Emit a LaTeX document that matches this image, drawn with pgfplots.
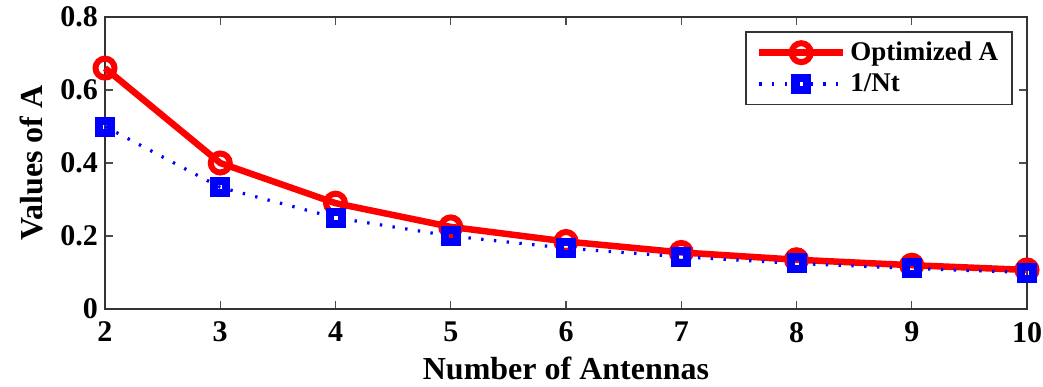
\documentclass[border=0pt]{standalone}
\usepackage{fontspec}
\setmainfont{Liberation Serif}
\usepackage{pgfplots}
\pgfplotsset{compat=1.18}
\begin{document}
\begin{tikzpicture}
\begin{axis}[
  name=ax,
  scale only axis,
  width=461pt, height=146pt,
  xmin=2, xmax=10, ymin=0, ymax=0.8,
  xtick={2,3,...,10},
  ytick={0,0.2,0.4,0.6,0.8},
  yticklabels={0,0.2,0.4,0.6,0.8},
  tick align=inside,
  major tick length=4pt,
  axis line style={line width=0.8pt, black!80},
  tick style={line width=0.6pt, black!70},
  tick label style={font=\fontsize{15}{17}\selectfont\bfseries},
  xticklabel style={yshift=-3pt},
  /pgf/number format/assume math mode=true,
  xlabel={\bfseries Number of Antennas},
  ylabel={\bfseries Values of A},
  label style={font=\fontsize{16}{18}\selectfont, inner sep=0pt},
  xlabel style={at={(axis description cs:0.5,-0.243)}, anchor=base},
  ylabel style={at={(axis description cs:-0.068,0.5)}, anchor=base},
  legend style={at={(axis description cs:1,1)}, anchor=north east, xshift=-7pt, yshift=-7pt,
    font=\fontsize{13.5}{15}\selectfont\bfseries, draw=black!80, line width=0.8pt,
    inner xsep=5pt, inner ysep=3pt, row sep=1pt},
  legend image code/.code={\draw[mark repeat=2,mark phase=2,#1] plot coordinates {(0pt,0pt) (21pt,0pt) (42pt,0pt)};},
  legend cell align=left,
  clip=false,
]
\addplot[color=red, line width=3.25pt, mark=o, mark size=4.75pt, mark options={solid, line width=3pt}]
  coordinates {(2,0.66) (3,0.40) (4,0.29) (5,0.225) (6,0.185) (7,0.155) (8,0.135) (9,0.12) (10,0.107)};
\addplot[color=blue, line width=1.6pt, dash pattern=on 1.2pt off 5.2pt,
  mark=square, mark size=3pt, mark options={solid, line width=4pt}]
  coordinates {(2,0.5) (3,0.3333) (4,0.25) (5,0.2) (6,0.1667) (7,0.1429) (8,0.125) (9,0.1111) (10,0.1)};
\legend{Optimized A, 1/Nt}
\end{axis}
\pgfresetboundingbox
\path[use as bounding box] ([xshift=-52.5pt,yshift=-38.5pt]ax.south west) rectangle ([xshift=8pt,yshift=8.5pt]ax.north east);
\end{tikzpicture}
\end{document}
